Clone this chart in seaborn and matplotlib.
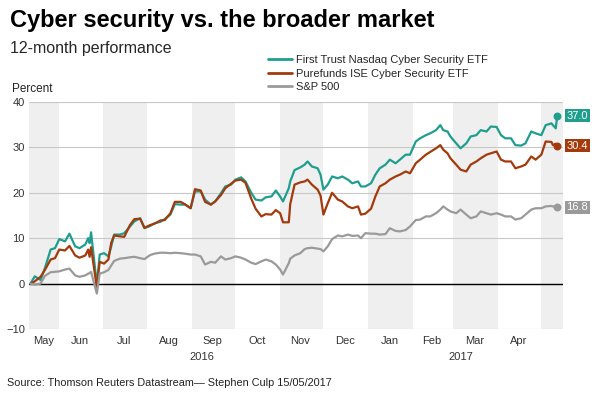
import matplotlib
matplotlib.use('Agg')
import matplotlib.pyplot as plt
import matplotlib.transforms as mtransforms
import seaborn as sns
import pandas as pd

# 12-month performance, percent
dates = [
    '2016-05-12', '2016-05-15', '2016-05-19', '2016-05-22', '2016-05-26', '2016-05-29',
    '2016-06-01', '2016-06-05', '2016-06-08', '2016-06-12', '2016-06-15', '2016-06-19',
    '2016-06-21', '2016-06-22', '2016-06-23', '2016-06-27', '2016-06-29',
    '2016-07-02', '2016-07-05', '2016-07-07', '2016-07-09', '2016-07-13', '2016-07-16',
    '2016-07-20', '2016-07-23', '2016-07-27', '2016-07-30',
    '2016-08-03', '2016-08-06', '2016-08-10', '2016-08-13', '2016-08-17', '2016-08-20',
    '2016-08-24', '2016-08-27', '2016-08-31',
    '2016-09-03', '2016-09-07', '2016-09-10', '2016-09-14', '2016-09-17', '2016-09-21',
    '2016-09-24', '2016-09-28',
    '2016-10-01', '2016-10-05', '2016-10-08', '2016-10-12', '2016-10-15', '2016-10-19',
    '2016-10-22', '2016-10-26', '2016-10-29',
    '2016-11-01', '2016-11-03', '2016-11-07', '2016-11-08', '2016-11-11', '2016-11-15',
    '2016-11-18', '2016-11-20', '2016-11-23', '2016-11-27', '2016-11-29',
    '2016-12-01', '2016-12-04', '2016-12-07', '2016-12-11', '2016-12-14', '2016-12-18',
    '2016-12-21', '2016-12-25', '2016-12-27', '2016-12-30',
    '2017-01-03', '2017-01-06', '2017-01-09', '2017-01-13', '2017-01-16', '2017-01-20',
    '2017-01-23', '2017-01-27', '2017-01-30',
    '2017-02-03', '2017-02-06', '2017-02-10', '2017-02-13', '2017-02-17', '2017-02-20',
    '2017-02-22', '2017-02-25', '2017-02-27',
    '2017-03-03', '2017-03-06', '2017-03-10', '2017-03-13', '2017-03-17', '2017-03-20',
    '2017-03-24', '2017-03-27', '2017-03-31',
    '2017-04-03', '2017-04-06', '2017-04-10', '2017-04-13', '2017-04-17', '2017-04-20',
    '2017-04-24', '2017-04-27',
    '2017-05-01', '2017-05-04', '2017-05-08', '2017-05-09', '2017-05-11', '2017-05-12',
]

first_trust = [
    0.0, 1.6, 0.8, 3.4, 7.5, 7.8,
    9.8, 9.3, 11.0, 8.2, 7.8, 8.6,
    10.0, 8.9, 11.3, -0.2, 6.4,
    6.7, 6.0, 8.2, 10.8, 10.8, 11.1,
    12.6, 13.7, 14.4, 12.2,
    12.7, 13.3, 13.6, 14.2, 15.2, 17.5,
    17.4, 17.4, 16.6,
    20.3, 20.3, 18.5, 17.4, 18.1, 19.9,
    21.4, 21.8,
    22.9, 23.4, 22.5, 20.0, 18.5, 18.3,
    19.0, 19.2, 20.5,
    19.2, 18.1, 21.0, 22.5, 25.0, 25.6,
    26.2, 26.9, 25.8, 25.4, 24.0,
    20.7, 21.8, 23.6, 23.2, 23.6, 22.9,
    22.1, 22.5, 21.4, 21.4,
    22.1, 24.0, 25.4, 26.2, 27.3, 26.5,
    27.3, 28.4, 28.4,
    31.3, 32.0, 32.7, 33.1, 33.8, 34.9,
    33.8, 33.5, 32.4,
    30.9, 29.8, 30.9, 32.4, 32.7, 33.8,
    33.5, 34.6, 34.5,
    32.7, 32.0, 32.0, 30.5, 30.4, 30.9,
    33.5, 33.1,
    32.7, 34.9, 35.3, 34.9, 34.2, 37.0,
]

purefunds = [
    0.0, 0.5, 1.5, 3.0, 5.3, 5.6,
    7.5, 7.3, 8.3, 6.2, 5.7, 6.2,
    7.5, 5.9, 8.0, -0.9, 4.8,
    4.4, 5.3, 9.0, 10.6, 10.4, 10.3,
    12.9, 14.2, 14.3, 12.3,
    12.9, 13.2, 13.9, 14.0, 15.5, 18.0,
    18.0, 17.5, 16.6,
    20.8, 20.5, 18.0, 17.4, 18.1, 19.5,
    21.0, 22.0,
    22.7, 22.9, 22.2, 18.7, 16.5, 14.8,
    15.3, 15.2, 16.2,
    15.5, 13.5, 13.5, 17.5, 21.8, 22.3,
    22.5, 22.9, 21.8, 20.7, 19.4,
    15.2, 17.7, 20.0, 18.5, 18.1, 17.0,
    16.6, 17.0, 15.2, 15.4,
    16.5, 19.2, 21.4, 22.1, 22.9, 23.6,
    24.0, 24.7, 24.3,
    26.5, 27.3, 28.4, 29.0, 29.8, 30.5,
    29.5, 28.7, 27.6,
    26.2, 25.1, 24.7, 26.2, 26.9, 27.6,
    28.4, 28.7, 29.1,
    27.3, 26.9, 26.9, 25.4, 25.8, 26.2,
    28.0, 27.3,
    28.4, 31.3, 31.2, 30.5, 30.8, 30.4,
]

sp500 = [
    0.0, -0.2, 0.0, 1.7, 2.5, 2.6,
    2.7, 3.1, 3.3, 1.8, 1.5, 1.8,
    2.2, 2.3, 2.6, -2.2, 2.2,
    2.5, 3.0, 4.0, 5.0, 5.5, 5.6,
    5.8, 5.9, 5.6, 5.4,
    6.3, 6.6, 6.8, 6.8, 6.7, 6.8,
    6.7, 6.6, 6.4,
    6.4, 6.0, 4.2, 4.8, 4.6, 6.0,
    5.3, 5.6,
    6.0, 5.7, 5.3, 4.6, 4.3, 4.9,
    5.3, 4.9, 4.2,
    3.1, 2.0, 4.5, 5.5, 6.2, 6.7,
    7.6, 7.8, 7.9, 7.7, 7.6,
    7.1, 8.2, 9.8, 10.6, 10.4, 10.8,
    10.5, 10.6, 10.0, 11.1,
    11.0, 11.0, 10.8, 10.9, 12.2, 11.6,
    11.5, 11.8, 12.6,
    14.0, 14.1, 14.8, 14.8, 15.5, 16.3,
    17.0, 16.3, 15.9,
    15.5, 16.3, 15.2, 14.4, 14.8, 15.9,
    15.5, 15.2, 15.5,
    15.2, 14.8, 14.8, 14.1, 14.4, 15.2,
    16.3, 16.6,
    16.6, 17.0, 17.1, 17.0, 17.0, 16.8,
]

series_names = ['First Trust Nasdaq Cyber Security ETF',
                'Purefunds ISE Cyber Security ETF',
                'S&P 500']
colors = ['#1f9e8e', '#a33a0c', '#9a9a9a']
end_labels = ['37.0', '30.4', '16.8']

month_labels = ['May', 'Jun', 'Jul', 'Aug', 'Sep', 'Oct', 'Nov', 'Dec',
                'Jan', 'Feb', 'Mar', 'Apr']
month_label_dates = ['2016-05-21', '2016-06-15', '2016-07-16', '2016-08-16',
                     '2016-09-15', '2016-10-16', '2016-11-15', '2016-12-16',
                     '2017-01-16', '2017-02-14', '2017-03-16', '2017-04-15']
year_labels = ['2016', '2017']
year_label_dates = ['2016-09-08', '2017-03-06']

shaded_months = [('2016-05-11', '2016-06-01'), ('2016-07-01', '2016-08-01'),
                 ('2016-09-01', '2016-10-01'), ('2016-11-01', '2016-12-01'),
                 ('2017-01-01', '2017-02-01'), ('2017-03-01', '2017-04-01'),
                 ('2017-05-01', '2017-05-16')]

df = pd.DataFrame({
    'date': pd.to_datetime(dates * 3),
    'value': first_trust + purefunds + sp500,
    'series': [series_names[0]] * len(dates) + [series_names[1]] * len(dates)
              + [series_names[2]] * len(dates),
})

sns.set_style('white')
plt.rcParams['font.family'] = ['Liberation Sans', 'DejaVu Sans']

fig = plt.figure(figsize=(6, 4), dpi=100)
ax = fig.add_axes([29 / 600, 1 - 329 / 400, (563 - 29) / 600, (329 - 102) / 400])

for start, end in shaded_months:
    ax.axvspan(pd.Timestamp(start), pd.Timestamp(end), color='#efefef', lw=0, zorder=0)

sns.lineplot(data=df, x='date', y='value', hue='series', hue_order=series_names,
             palette=colors, linewidth=1.6, estimator=None, ax=ax, zorder=3)

ax.axhline(0, color='black', lw=1, zorder=2)

# end dots and value boxes
for name, col, lab in zip(series_names, colors, end_labels):
    last = df[df['series'] == name].iloc[-1]
    ax.scatter([last['date']], [last['value']], color=col, s=22, zorder=4)
    ax.annotate(lab, xy=(1.0, float(lab)), xycoords=('axes fraction', 'data'),
                xytext=(2.5, 0), textcoords='offset points', ha='left', va='center',
                color='white', fontsize=8,
                bbox=dict(boxstyle='square,pad=0.15', fc=col, ec='none'),
                annotation_clip=False)

ax.set_xlim(pd.Timestamp('2016-05-11'), pd.Timestamp('2017-05-16'))
ax.set_ylim(-10, 40)
ax.set_yticks([-10, 0, 10, 20, 30, 40])
ax.yaxis.grid(True, color='#c8c8c8', lw=0.8)
ax.set_axisbelow(True)
ax.set_xticks(pd.to_datetime(month_label_dates))
ax.set_xticklabels(month_labels)
ax.tick_params(axis='x', length=0, pad=5, labelsize=8, colors='#333333')
ax.tick_params(axis='y', length=0, pad=3, labelsize=8, colors='#333333')
ax.set_xlabel('')
ax.set_ylabel('')
for s in ax.spines.values():
    s.set_visible(False)

trans = mtransforms.blended_transform_factory(ax.transData, ax.transAxes)
for d, lab in zip(year_label_dates, year_labels):
    ax.text(pd.Timestamp(d), -0.123, lab, transform=trans, ha='center', va='center',
            fontsize=8, color='#333333')

handles, labels = ax.get_legend_handles_labels()
for h in handles:
    h.set_linewidth(2)
ax.legend(handles, labels, loc='upper left', bbox_to_anchor=(268 / 600, 1 - 55 / 400),
          bbox_transform=fig.transFigure, frameon=False, fontsize=8,
          handlelength=2.2, handletextpad=0.3, labelspacing=0.32,
          borderpad=0, borderaxespad=0)

fig.text(10 / 600, 1 - 20 / 400, 'Cyber security vs. the broader market',
         fontsize=17, fontweight='bold', va='center', color='black')
fig.text(10 / 600, 1 - 49 / 400, '12-month performance', fontsize=11.5, va='center')
fig.text(12 / 600, 1 - 89 / 400, 'Percent', fontsize=8.5, va='center', color='#222222')
fig.text(7 / 600, 1 - 383 / 400,
         'Source: Thomson Reuters Datastream\u2014 Stephen Culp 15/05/2017',
         fontsize=7.8, va='center', color='#222222')

fig.savefig('out.png', dpi=100)
